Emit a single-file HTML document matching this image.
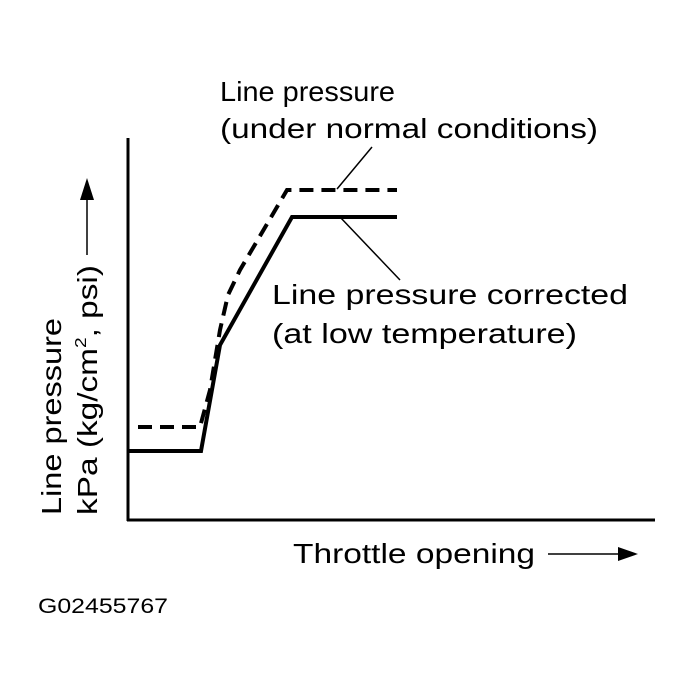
<!DOCTYPE html>
<html><head><style>html,body{margin:0;padding:0;background:#fff}svg{display:block}</style></head>
<body>
<svg width="692" height="689" viewBox="0 0 692 689" xmlns="http://www.w3.org/2000/svg" font-family="Liberation Sans, sans-serif" font-size="28" fill="#000">
<line x1="128" y1="138" x2="128" y2="521" stroke="#000" stroke-width="3"/>
<line x1="127" y1="520" x2="655" y2="520" stroke="#000" stroke-width="3"/>
<polyline points="128,451 201,451 220,345 292,217 397,217" fill="none" stroke="#000" stroke-width="4"/>
<polyline points="138,427 200,427 210,390 220,330 228,295 240,270 287,190 397,190" fill="none" stroke="#000" stroke-width="4" stroke-dasharray="14,8"/>
<line x1="337" y1="189" x2="372" y2="147" stroke="#000" stroke-width="1.5"/>
<line x1="340" y1="217" x2="400" y2="280" stroke="#000" stroke-width="1.5"/>
<text x="220" y="101" textLength="175" lengthAdjust="spacingAndGlyphs">Line pressure</text>
<text x="220" y="138" textLength="378" lengthAdjust="spacingAndGlyphs">(under normal conditions)</text>
<text x="272" y="304" textLength="356" lengthAdjust="spacingAndGlyphs">Line pressure corrected</text>
<text x="272" y="343" textLength="305" lengthAdjust="spacingAndGlyphs">(at low temperature)</text>
<text x="293" y="563" textLength="242" lengthAdjust="spacingAndGlyphs">Throttle opening</text>
<line x1="548" y1="554" x2="625" y2="554" stroke="#000" stroke-width="1.5"/>
<polygon points="618,547 638,554 618,561" fill="#000"/>
<text transform="translate(61,515) rotate(-90)" textLength="197" lengthAdjust="spacingAndGlyphs">Line pressure</text>
<text transform="translate(97,515) rotate(-90)" textLength="250" lengthAdjust="spacingAndGlyphs">kPa (kg/cm<tspan font-size="16" dy="-11">2</tspan><tspan dy="11">, psi)</tspan></text>
<line x1="87" y1="255" x2="87" y2="195" stroke="#000" stroke-width="1.5"/>
<polygon points="80,200 87,178 94,200" fill="#000"/>
<text x="38" y="613" font-size="21" textLength="130" lengthAdjust="spacingAndGlyphs">G02455767</text>
</svg>
</body></html>
